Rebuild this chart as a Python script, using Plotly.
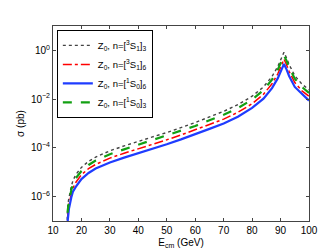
import plotly.graph_objects as go

E = [14.9, 15.0, 15.2, 15.6, 16.0, 16.5, 17.0, 18.0, 20.0, 22.5, 25.0, 30.0, 35.0, 40.0,
     45.0, 50.0, 55.0, 60.0, 65.0, 70.0, 75.0, 80.0, 84.0, 87.0, 89.0, 90.5, 91.2,
     92.0, 93.0, 95.0, 97.5, 100.0]

# log10(sigma / pb)
log_3S1_3 = [-7.2, -6.6, -6.35, -6.05, -5.8, -5.55, -5.35, -5.1, -4.8, -4.55, -4.38, -4.12,
             -3.92, -3.72, -3.55, -3.37, -3.17, -2.96, -2.73, -2.5, -2.23, -1.88, -1.5,
             -1.07, -0.67, -0.27, -0.08, -0.28, -0.58, -1.04, -1.38, -1.62]
log_3S1_6 = [-7.6, -7.2, -6.75, -6.35, -6.1, -5.85, -5.65, -5.42, -5.1, -4.85, -4.68, -4.42,
             -4.22, -4.04, -3.87, -3.67, -3.47, -3.27, -3.04, -2.82, -2.54, -2.19, -1.8,
             -1.37, -0.97, -0.57, -0.36, -0.56, -0.86, -1.32, -1.66, -1.88]
log_1S0_6 = [-8.0, -7.6, -6.95, -6.5, -6.25, -6.0, -5.8, -5.6, -5.28, -5.03, -4.85, -4.6,
             -4.4, -4.22, -4.05, -3.85, -3.65, -3.45, -3.22, -3.0, -2.72, -2.36, -1.98,
             -1.55, -1.15, -0.75, -0.56, -0.75, -1.05, -1.5, -1.78, -2.06]
log_1S0_3 = [-7.4, -6.9, -6.55, -6.2, -5.95, -5.7, -5.5, -5.25, -4.95, -4.7, -4.52, -4.26,
             -4.06, -3.87, -3.7, -3.51, -3.31, -3.1, -2.87, -2.64, -2.37, -2.02, -1.63,
             -1.2, -0.8, -0.4, -0.2, -0.4, -0.7, -1.16, -1.5, -1.75]

names = ["Z<sub>0</sub>, n=[<sup>3</sup>S<sub>1</sub>]<sub>3</sub>",
         "Z<sub>0</sub>, n=[<sup>3</sup>S<sub>1</sub>]<sub>6</sub>",
         "Z<sub>0</sub>, n=[<sup>1</sup>S<sub>0</sub>]<sub>6</sub>",
         "Z<sub>0</sub>, n=[<sup>1</sup>S<sub>0</sub>]<sub>3</sub>"]
series = [log_3S1_3, log_3S1_6, log_1S0_6, log_1S0_3]
styles = [dict(color="#444444", dash="dot", width=1.4),
          dict(color="#ff0000", dash="dashdot", width=1.5),
          dict(color="#1f3cff", dash="solid", width=2.2),
          dict(color="#12a012", dash="dash", width=2.2)]

x_ticks = [10, 20, 30, 40, 50, 60, 70, 80, 90, 100]
y_ticks = [1e-6, 1e-4, 1e-2, 1]
y_ticktext = ["10<sup>−6</sup>", "10<sup>−4</sup>", "10<sup>−2</sup>", "10<sup>0</sup>"]

fig = go.Figure()
for name, vals, st in zip(names, series, styles):
    fig.add_trace(go.Scatter(x=E, y=[10 ** v for v in vals], mode="lines", name=name, line=st))

font = dict(family="Liberation Sans, Arial, sans-serif", size=10, color="black")
fig.update_layout(
    width=332, height=250,
    margin=dict(l=43, r=31, t=18, b=29),
    paper_bgcolor="white", plot_bgcolor="white",
    font=font,
    showlegend=True,
    legend=dict(x=0.015, y=0.98, xanchor="left", yanchor="top",
                bgcolor="white", bordercolor="black", borderwidth=1,
                font=dict(family="Liberation Sans, Arial, sans-serif", size=9.5),
                itemwidth=30, tracegroupgap=4),
)
fig.update_xaxes(range=[10, 100], tickvals=x_ticks, ticks="inside", ticklen=3,
                 showline=True, linecolor="#444", linewidth=1, mirror="ticks",
                 showgrid=False, zeroline=False,
                 title=dict(text="E<sub>cm</sub> (GeV)", standoff=3, font=dict(size=10)))
fig.update_yaxes(type="log", range=[-7, 1], tickvals=y_ticks, ticktext=y_ticktext,
                 ticks="inside", ticklen=3,
                 showline=True, linecolor="#444", linewidth=1, mirror="ticks",
                 showgrid=False, zeroline=False,
                 title=dict(text="σ (pb)", standoff=4, font=dict(size=10)))

fig.write_html("out.html")
